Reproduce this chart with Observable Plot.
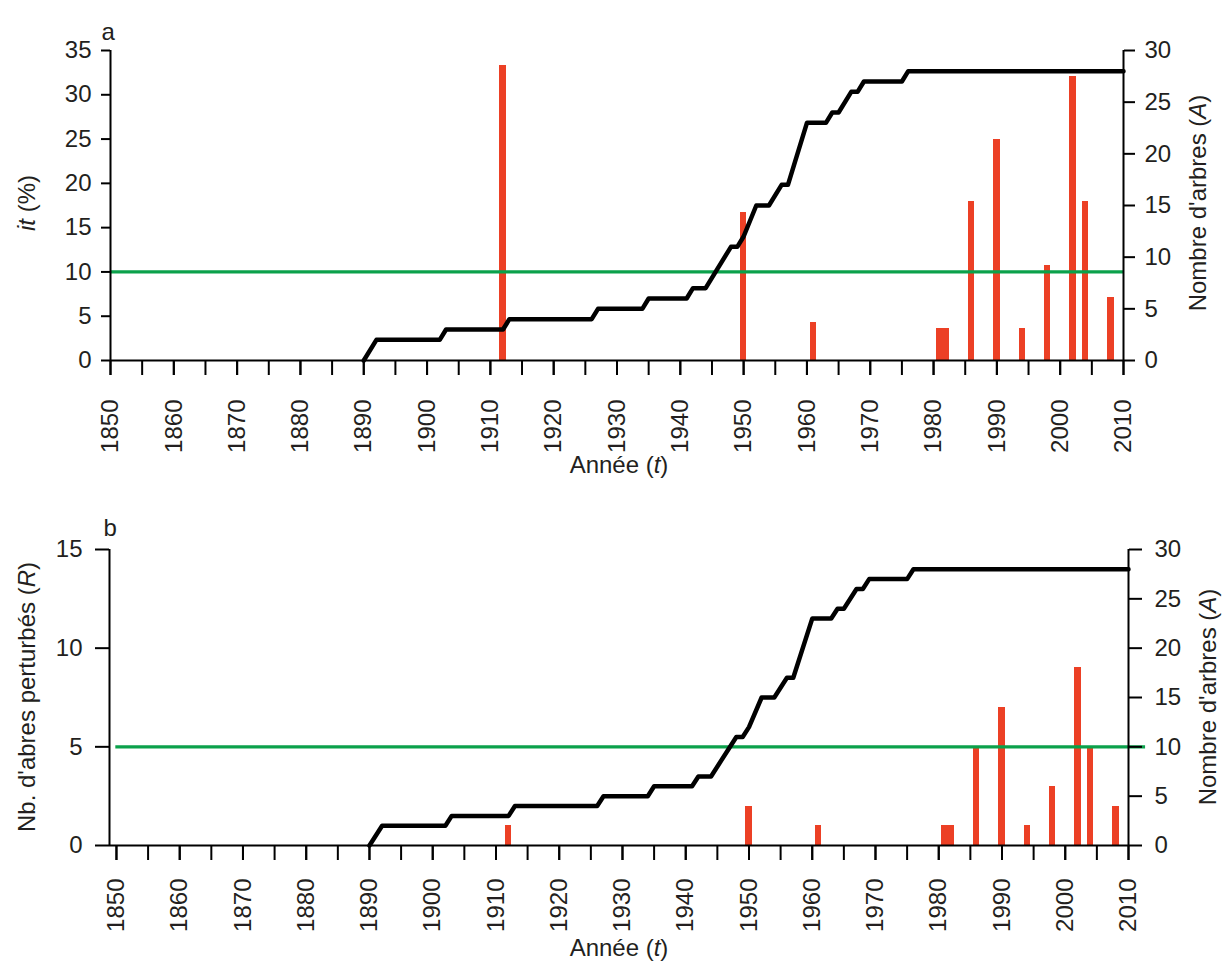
<!DOCTYPE html>
<html>
<head>
<meta charset="utf-8">
<script src="https://cdn.jsdelivr.net/npm/d3@7"></script>
<script src="https://cdn.jsdelivr.net/npm/@observablehq/plot@0.6"></script>
<style>
  html, body { margin: 0; padding: 0; background: #fff; overflow: hidden; }
  #chart svg { display: block; }
</style>
</head>
<body>
<div id="chart"></div>
<script>
// ---------- DATA ----------
const yearLabelTicks = [1850, 1860, 1870, 1880, 1890, 1900, 1910, 1920, 1930, 1940, 1950, 1960, 1970, 1980, 1990, 2000, 2010];
const yearMinorTicks = [1850, 1855, 1860, 1865, 1870, 1875, 1880, 1885, 1890, 1895, 1900, 1905, 1910, 1915, 1920, 1925, 1930, 1935, 1940, 1945, 1950, 1955, 1960, 1965, 1970, 1975, 1980, 1985, 1990, 1995, 2000, 2005, 2010];
const itTicks = [0, 5, 10, 15, 20, 25, 30, 35];
const rTicks = [0, 5, 10, 15];
const treeTicks = [0, 5, 10, 15, 20, 25, 30];

// Cumulative number of trees (A): breakpoints of the black line
const lineYears = [1890, 1892, 1902, 1903, 1912, 1913, 1926, 1927, 1934, 1935, 1941, 1942, 1944, 1948, 1949, 1950, 1952, 1954, 1956, 1957, 1960, 1963, 1964, 1965, 1967, 1968, 1969, 1975, 1976, 2010];
const lineTrees = [0, 2, 2, 3, 3, 4, 4, 5, 5, 6, 6, 7, 7, 11, 11, 12, 15, 15, 17, 17, 23, 23, 24, 24, 26, 26, 27, 27, 28, 28];

// Disturbance events
const eventYears = [1912, 1950, 1961, 1981, 1982, 1986, 1990, 1994, 1998, 2002, 2004, 2008];
const itPercent = [33.3, 16.7, 4.3, 3.6, 3.6, 17.9, 25.0, 3.6, 10.7, 32.1, 17.9, 7.1];
const disturbedTrees = [1, 2, 1, 1, 1, 5, 7, 1, 3, 9, 5, 2];

const itThreshold = 10;
const rThreshold = 5;

// ---------- STYLE ----------
const FONT = "'Liberation Sans', Arial, Helvetica, sans-serif";
const RED = "#EC4025";
const GREEN = "#0BA14B";
const INK = "#231F20";
const FS = 24;

const lineData = lineYears.map((year, i) => ({year, A: lineTrees[i]}));

function addTitle(svg, x, y, parts, rotate) {
  const t = d3.select(svg).append("text")
    .attr("transform", `translate(${x},${y})` + (rotate ? " rotate(-90)" : ""))
    .attr("text-anchor", "middle")
    .attr("dy", "0.35em")
    .attr("fill", INK)
    .style("font-family", FONT)
    .style("font-size", "24px");
  parts.forEach(([s, it]) => {
    const sp = t.append("tspan").text(s);
    if (it) sp.style("font-style", "italic");
  });
}

function panel(cfg) {
  const k = cfg.yMax / 30; // right axis (0-30) mapped onto left scale
  const bars = eventYears.map((year, i) => ({year, v: cfg.values[i]}));
  const svg = Plot.plot({
    width: 1226,
    height: cfg.height,
    marginTop: cfg.marginTop,
    marginBottom: cfg.marginBottom,
    marginLeft: cfg.marginLeft,
    marginRight: cfg.marginRight,
    style: {fontFamily: FONT, fontSize: FS + "px", color: INK, background: "white", overflow: "visible"},
    x: {domain: [cfg.x0, 2010], axis: null},
    y: {domain: [0, cfg.yMax], axis: null},
    marks: [
      Plot.rect(bars, {x1: d => d.year - 0.5, x2: d => d.year + 0.5, y1: 0, y2: "v", fill: RED, shapeRendering: "crispEdges"}),
      Plot.ruleY([cfg.threshold], {x1: cfg.g0, x2: cfg.g1, stroke: GREEN, strokeWidth: 3.2}),
      Plot.line(lineData, {x: "year", y: d => d.A * k, stroke: "black", strokeWidth: 4.5, strokeLinejoin: "round"}),
      Plot.ruleX([cfg.x0], {stroke: "black", strokeWidth: 2}),
      Plot.ruleX([2010], {stroke: "black", strokeWidth: 2}),
      Plot.ruleY([0], {x1: cfg.x0, x2: 2010, stroke: "black", strokeWidth: 2}),
      Plot.axisX({ticks: yearMinorTicks, tickSize: 15, tickFormat: () => "", label: null, stroke: "black", strokeWidth: 2}),
      Plot.axisX({ticks: yearLabelTicks, tickSize: 15, tickRotate: -90, tickPadding: cfg.xPad, tickFormat: d => String(d), label: null, fontSize: FS, fill: INK, stroke: "black", strokeWidth: 2}),
      Plot.axisY({ticks: cfg.leftTicks, anchor: "left", tickSize: cfg.lTick, tickPadding: cfg.lPad, fontSize: FS, fill: INK, stroke: "black", strokeWidth: 2, label: null}),
      Plot.axisY({ticks: treeTicks.map(v => v * k), tickFormat: d => String(Math.round(d / k)), anchor: "right", tickSize: cfg.rTick, tickPadding: cfg.rPad, fontSize: FS, fill: INK, stroke: "black", strokeWidth: 2, label: null}),
      Plot.text([cfg.letter], {frameAnchor: "top-left", text: d => d, dx: cfg.letterDx, dy: cfg.letterDy, fontSize: 24, fill: INK})
    ]
  });
  addTitle(svg, 27, cfg.leftTitleY, cfg.leftTitle, true);
  addTitle(svg, cfg.rightTitleX, cfg.leftTitleY, [["Nombre d'arbres (", false], ["A", true], [")", false]], true);
  addTitle(svg, 619, cfg.xTitleY, [["Année (", false], ["t", true], [")", false]], false);
  return svg;
}

const chart = document.getElementById("chart");
chart.appendChild(panel({
  height: 490, marginTop: 50, marginBottom: 130, marginLeft: 110, marginRight: 103,
  x0: 1850, g0: 1850, g1: 2010, yMax: 35, values: itPercent, threshold: itThreshold,
  leftTicks: itTicks, lTick: 9, lPad: 10, rTick: 11, rPad: 10, xPad: 24,
  letter: "a", letterDx: -9, letterDy: -28,
  leftTitle: [["it", true], [" (%)", false]], leftTitleY: 203, rightTitleX: 1198, xTitleY: 465
}));
chart.appendChild(panel({
  height: 471, marginTop: 59, marginBottom: 116, marginLeft: 109, marginRight: 98,
  x0: 1848.9, g0: 1849.9, g1: 2012.7, yMax: 15, values: disturbedTrees, threshold: rThreshold,
  leftTicks: rTicks, lTick: 14, lPad: 13, rTick: 13, rPad: 13, xPad: 18,
  letter: "b", letterDx: -6, letterDy: -31,
  leftTitle: [["Nb. d'abres perturbés (", false], ["R", true], [")", false]], leftTitleY: 207, rightTitleX: 1208, xTitleY: 458
}));
</script>
</body>
</html>
